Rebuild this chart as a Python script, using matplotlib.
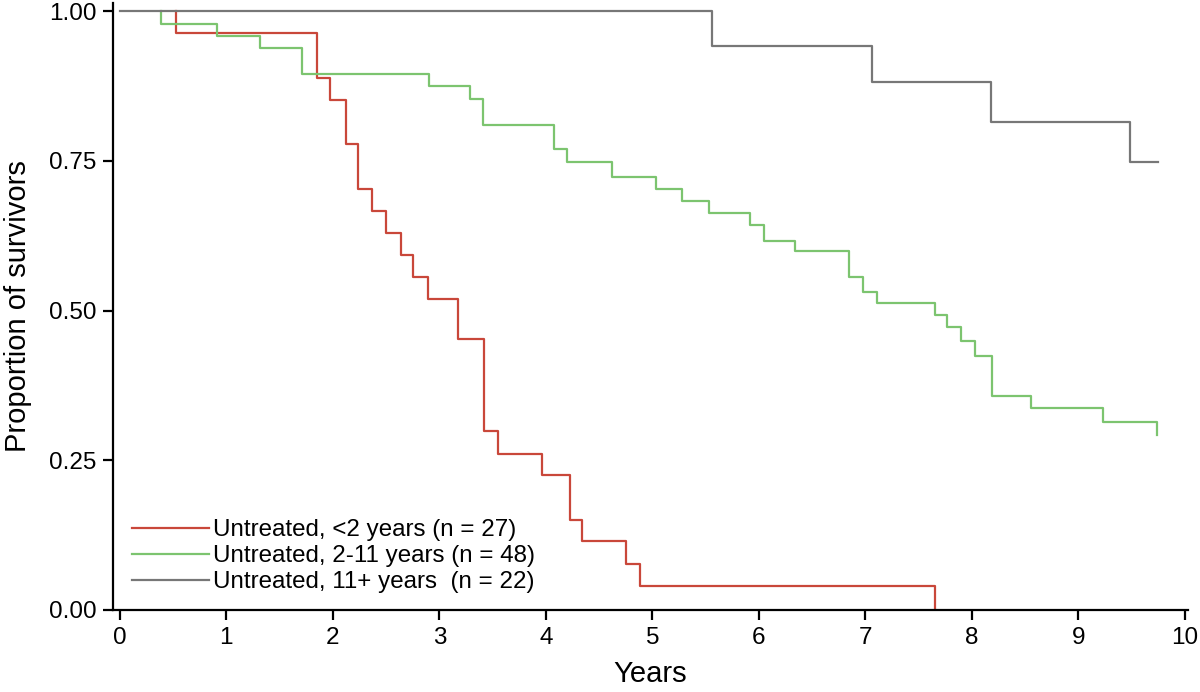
import matplotlib.pyplot as plt

plt.rcParams['font.family'] = ['Liberation Sans', 'DejaVu Sans']

# Kaplan-Meier steps (years, proportion surviving)
t_young = [0.53, 0.53, 1.85, 1.97, 2.12, 2.24, 2.37, 2.50, 2.64, 2.75, 2.89,
           3.18, 3.42, 3.55, 3.96, 4.23, 4.34, 4.75, 4.88, 7.65]
s_young = [1.0, 0.963, 0.889, 0.852, 0.778, 0.704, 0.667, 0.630, 0.593, 0.556,
           0.519, 0.452, 0.299, 0.261, 0.225, 0.151, 0.116, 0.077, 0.040, 0.0]

t_mid = [0.385, 0.385, 0.91, 1.32, 1.71, 2.90, 3.29, 3.41, 4.08, 4.20, 4.62,
         5.03, 5.28, 5.53, 5.92, 6.05, 6.34, 6.85, 6.98, 7.11, 7.65, 7.77,
         7.90, 8.03, 8.19, 8.56, 9.23, 9.74]
s_mid = [1.0, 0.979, 0.958, 0.938, 0.896, 0.875, 0.854, 0.810, 0.770, 0.748,
         0.724, 0.704, 0.683, 0.663, 0.643, 0.617, 0.599, 0.557, 0.531, 0.512,
         0.493, 0.472, 0.449, 0.424, 0.358, 0.338, 0.314, 0.293]

t_old = [0.0, 5.56, 7.06, 8.18, 9.49, 9.75]
s_old = [1.0, 0.942, 0.882, 0.815, 0.749, 0.749]

labels = ['Untreated, <2 years (n = 27)',
          'Untreated, 2-11 years (n = 48)',
          'Untreated, 11+ years  (n = 22)']
colors = ['#c9473a', '#7cc46f', '#777777']

fig = plt.figure(figsize=(12, 6.92), dpi=100)
ax = fig.add_axes([0.094, 0.1185, 0.896, 0.877])

ax.step(t_young, s_young, where='post', color=colors[0], lw=1.6, label=labels[0])
ax.step(t_mid, s_mid, where='post', color=colors[1], lw=1.6, label=labels[1])
ax.step(t_old, s_old, where='post', color=colors[2], lw=1.6, label=labels[2])

ax.set_xlim(-0.066, 10.03)
ax.set_ylim(0, 1.0137)
ax.set_xticks(range(0, 11))
ax.set_yticks([0, 0.25, 0.5, 0.75, 1.0])
ax.set_yticklabels(['0.00', '0.25', '0.50', '0.75', '1.00'])

for side in ['top', 'right']:
    ax.spines[side].set_visible(False)
for side in ['left', 'bottom']:
    ax.spines[side].set_linewidth(1.6)
ax.tick_params(axis='both', direction='out', length=7, width=1.6,
               labelsize=17.5, pad=5)

ax.set_xlabel('Years', fontsize=21, labelpad=8)
ax.set_ylabel('Proportion of survivors', fontsize=21, labelpad=12)

ax.legend(loc='lower left', bbox_to_anchor=(0.0, -0.004), frameon=False,
          fontsize=17.4, handlelength=3.2, handletextpad=0.15,
          labelspacing=0.16, borderpad=0.3)

fig.savefig('out.png')
